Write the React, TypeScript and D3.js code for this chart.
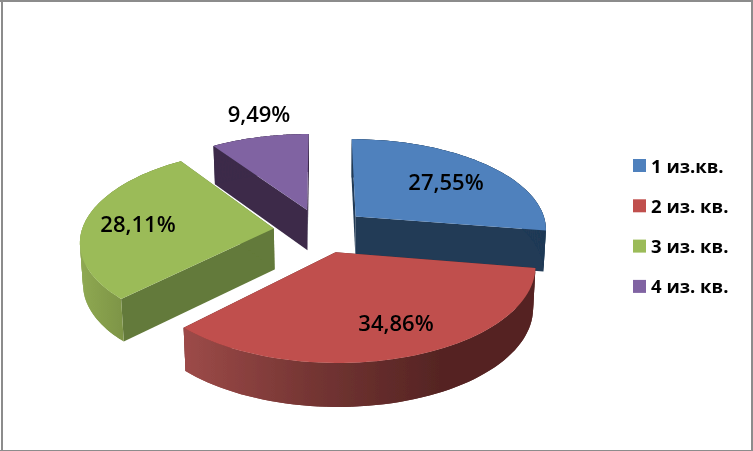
import React from "react";
import * as d3 from "d3";

const categories = ["1 из.кв.", "2 из. кв.", "3 из. кв.", "4 из. кв."];
const shares = [27.55, 34.86, 28.11, 9.49];
const topColors = ["#4f81bd", "#c0504d", "#9bbb59", "#8064a2"];
const cutColors = ["#203a56", "#552423", "#637a3a", "#3c2c4a"];
const labelCenters: [number, number][] = [[446, 182], [396, 323], [138, 224], [259, 114]];
const drawOrder = [3, 2, 0, 1];

const W = 753, H = 451;
const CX = 320.5, CY = 230.5, SX = 192, SY = 90.5, K = 0.128, EXPLODE = 0.245;
const VX = 340;
const STEPS = 60;

type P = [number, number];
const project = (X: number, Y: number): P => {
  const w = 1 + K * Y;
  return [CX + (SX * X) / w, CY - (SY * Y) / w];
};
const projectLow = (X: number, Y: number): P => {
  const [x, y] = project(X, Y);
  return [x + (VX - x) * 0.012, y + 41 - 2.4 * Y];
};

const line = d3.line<P>();
const pie = d3.pie<number>().sort(null).value((d) => d);

export default function App() {
  const arcs = pie(shares);
  const faces = arcs.map((a) => {
    const mid = (a.startAngle + a.endAngle) / 2;
    const ax = EXPLODE * Math.sin(mid);
    const ay = EXPLODE * Math.cos(mid);
    const rim = d3.range(0, STEPS + 1).map((k) => {
      const t = a.startAngle + ((a.endAngle - a.startAngle) * k) / STEPS;
      return [ax + Math.sin(t), ay + Math.cos(t)] as P;
    });
    const up = (p: P) => project(p[0], p[1]);
    const low = (p: P) => projectLow(p[0], p[1]);
    const top = line([project(ax, ay), ...rim.map(up)]) + "Z";
    const cut = (p: P) =>
      line([project(ax, ay), up(p), low(p), projectLow(ax, ay)]) + "Z";
    const strips = d3.range(0, STEPS).map((k) => {
      const seg = rim.slice(k, Math.min(k + 3, STEPS + 1));
      return line([...seg.map(up), ...seg.map(low).reverse()]) + "Z";
    });
    return { top, strips, cutStart: cut(rim[0]), cutEnd: cut(rim[STEPS]) };
  });

  return (
    <svg
      width={W}
      height={H}
      viewBox={`0 0 ${W} ${H}`}
      style={{ position: "absolute", left: 0, top: 0, display: "block" }}
    >
      <defs>
        <linearGradient id="side1" gradientUnits="userSpaceOnUse" x1={186} x2={440} y1={0} y2={0}>
          <stop offset="0" stopColor="#9c4a48" />
          <stop offset="0.5" stopColor="#743533" />
          <stop offset="1" stopColor="#552423" />
        </linearGradient>
        <linearGradient id="side2" gradientUnits="userSpaceOnUse" x1={80} x2={124} y1={0} y2={0}>
          <stop offset="0" stopColor="#8fa952" />
          <stop offset="1" stopColor="#7d9446" />
        </linearGradient>
        <filter id="soft" x="0" y="0" width="100%" height="100%">
          <feGaussianBlur stdDeviation="0.4" />
        </filter>
      </defs>
      <rect width={W} height={H} fill="#ffffff" />
      <rect x={1} y={0} width={2} height={H} fill="#8c8c8c" />
      <rect x={0} y={0} width={W} height={2} fill="#8c8c8c" />
      <rect x={751} y={0} width={2} height={H} fill="#8c8c8c" />
      <rect x={0} y={450} width={W} height={1} fill="#8c8c8c" />

      <g filter="url(#soft)">
        {drawOrder.map((idx) => {
          const f = faces[idx];
          const sideFill = idx === 1 ? "url(#side1)" : idx === 2 ? "url(#side2)" : cutColors[idx];
          return (
            <g key={idx}>
              <path d={f.cutStart} fill={cutColors[idx]} />
              <path d={f.cutEnd} fill={cutColors[idx]} />
              {f.strips.map((d, k) => (
                <path key={k} d={d} fill={sideFill} />
              ))}
              <path d={f.top} fill={topColors[idx]} />
            </g>
          );
        })}

        <g fontFamily="'Open Sans', sans-serif" fontSize={22} fontWeight={600} fill="#000000" textAnchor="middle">
          {shares.map((v, i) => (
            <text key={i} x={labelCenters[i][0]} y={labelCenters[i][1] + 8}>
              {v.toFixed(2).replace(".", ",")}%
            </text>
          ))}
        </g>

        <g fontFamily="'Open Sans', sans-serif" fontSize={18.5} fontWeight={700} fill="#000000">
          {categories.map((c, i) => (
            <g key={c} transform={`translate(633,${159 + i * 40.3})`}>
              <rect width={13} height={13} fill={topColors[i]} />
              <text x={18} y={13.5}>{c}</text>
            </g>
          ))}
        </g>
      </g>
    </svg>
  );
}
